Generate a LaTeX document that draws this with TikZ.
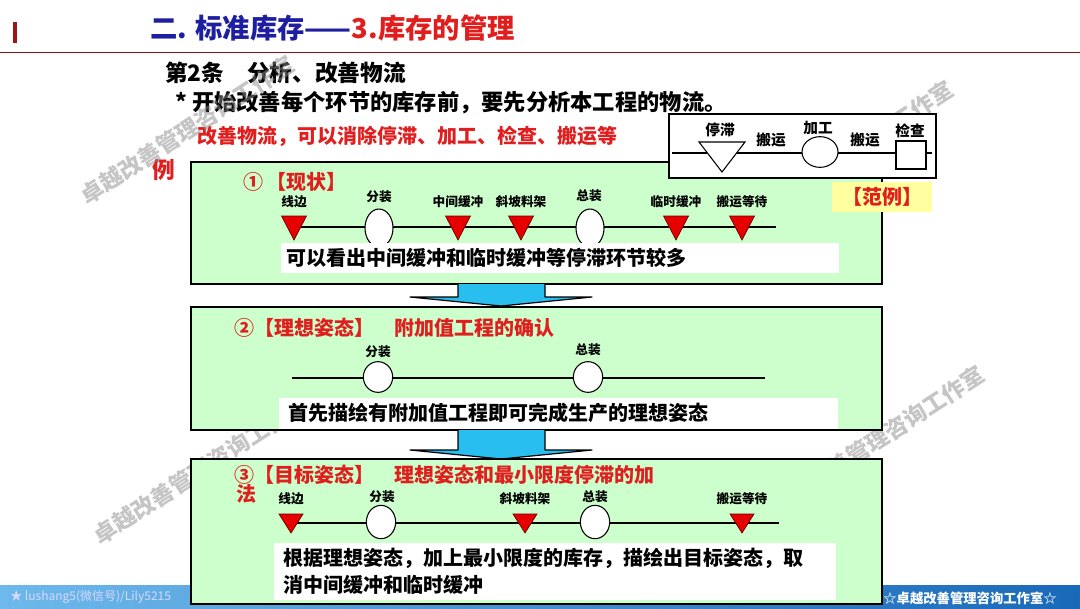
\documentclass[tikz,border=0pt]{standalone}
\usepackage{fontspec}
\setmainfont{Noto Sans CJK SC}
\usetikzlibrary{shapes.geometric}
\definecolor{titleblue}{RGB}{30,30,160}
\definecolor{titlered}{RGB}{225,30,30}
\definecolor{boxgreen}{RGB}{204,255,204}
\definecolor{arrowcyan}{RGB}{40,190,240}
\definecolor{markred}{RGB}{230,0,0}
\definecolor{barblue}{RGB}{25,105,185}
\definecolor{barlight}{RGB}{110,185,235}
\definecolor{markgray}{RGB}{140,140,140}
\definecolor{hlyellow}{RGB}{255,255,160}
\newcommand\fsz[1]{\fontsize{#1}{#1}\selectfont}

\begin{document}
\begin{tikzpicture}[x=0.75pt, y=-0.75pt,
  greenbox/.style={fill=boxgreen, draw=black, line width=1.3pt},
  stopmark/.style={fill=markred, draw=red!40!black, line width=0.5pt},
  proc/.style={ellipse, draw=black, fill=white, line width=0.8pt, inner sep=0pt},
  flow/.style={line width=1.1pt},
  tag/.style={font=\bfseries\fsz{9.5}, inner sep=0pt},
  head/.style={font=\bfseries\fsz{15}, text=titlered, anchor=west, inner sep=0pt},
  body/.style={font=\bfseries\fsz{15}, anchor=west, inner sep=0pt},
  wmark/.style={text=markgray, opacity=0.5, font=\bfseries\fsz{17}, rotate=33, inner sep=0pt},
  cyanarrow/.style={fill=arrowcyan, draw=black, line width=0.9pt, line join=round}]
\useasboundingbox (0,0) rectangle (1080,608);
\fill[white] (0,0) rectangle (1080,608);

% bottom bar
\shade[left color=barlight, right color=barblue] (0,585) rectangle (1080,608);
\node[font=\fsz{9}, text=white!85!blue, anchor=west, inner sep=0pt] (wechat) at (10,597) {★ lushang5(微信号)/Lily5215};
\node[font=\bfseries\fsz{10}, text=white, inner sep=0pt] (studio) at (970,598) {☆卓越改善管理咨询工作室☆};

% title
\fill[titlered!70!black] (13,22) rectangle (17,43);
\draw[titlered!60!black, line width=0.6pt] (0,52) -- (1080,52);
\node[anchor=west, inner sep=0pt, font=\bfseries\fsz{20.5}] (title) at (150,28)
  {\textcolor{titleblue}{二. 标准库存——}\textcolor{titlered}{3.库存的管理}};

\node[body, font=\bfseries\fsz{17}] (art) at (165,73) {第2条　分析、改善物流};
\node[body, font=\bfseries\fsz{16.7}] (note) at (175,103) {* 开始改善每个环节的库存前，要先分析本工程的物流。};
\node[head] (aim) at (197,136) {改善物流，可以消除停滞、加工、检查、搬运等};
\node[head, font=\bfseries\fsz{17}] (li) at (152,170) {例};

% watermarks
\node[wmark] (wm1) at (187,130) {卓越改善管理咨询工作室};
\node[wmark] (wm2) at (200,470) {卓越改善管理咨询工作室};
\node[wmark] (wm3) at (877,440) {卓越改善管理咨询工作室};
\node[wmark] (wm4) at (846,155) {卓越改善管理咨询工作室};

% 1 now
\draw[greenbox] (191,162) rectangle (882,284);
\node[head] (h1) at (243,182) {①\,【现状】};
\coordinate (s1) at (290,227);
\coordinate (e1) at (776,227);
\draw[flow] (s1) -- (e1);
\foreach \x/\t in {294/线边, 458/中间缓冲, 521/斜坡料架, 676/临时缓冲, 742/搬运等待} {
  \filldraw[stopmark] (\x-12.5,216) -- (\x+12.5,216) -- (\x,240) -- cycle;
  \node[tag] (a-\x) at (\x,202) {\t};
}
\node[proc, minimum width=21pt, minimum height=28.5pt] (a-fz) at (379,228) {};
\node[proc, minimum width=21pt, minimum height=28.5pt] (a-zz) at (590,228) {};
\node[tag] (a-fzt) at (379,197) {分装};
\node[tag] (a-zzt) at (589,196) {总装};
\fill[white] (281,243) rectangle (839,273);
\node[body] (t1) at (286,258) {可以看出中间缓冲和临时缓冲等停滞环节较多};

\filldraw[cyanarrow] (458,284) -- (458,297) -- (410,297) -- (501,306) -- (592,297) -- (545,297) -- (545,284);

% 2 ideal
\draw[greenbox] (191,307) rectangle (882,430);
\node[head] (h2) at (234,328) {②【理想姿态】　附加值工程的确认};
\coordinate (s2) at (292,378);
\coordinate (e2) at (765,378);
\draw[flow] (s2) -- (e2);
\node[proc, minimum width=22pt, minimum height=23pt] (b-fz) at (378,377) {};
\node[proc, minimum width=22pt, minimum height=23pt] (b-zz) at (588,377) {};
\node[tag] (b-fzt) at (378,352) {分装};
\node[tag] (b-zzt) at (588,350) {总装};
\fill[white] (279,398) rectangle (838,429);
\node[body] (t2) at (288,413) {首先描绘有附加值工程即可完成生产的理想姿态};

\filldraw[cyanarrow] (458,430) -- (458,450) -- (410,450) -- (501,459) -- (592,450) -- (545,450) -- (545,430);

% 3 target
\draw[greenbox] (191,459) rectangle (882,604);
\node[head] (h3) at (234,475) {③【目标姿态】　理想姿态和最小限度停滞的加};
\node[head] (h3b) at (236,494) {法};
\coordinate (s3) at (290,523);
\coordinate (e3) at (779,523);
\draw[flow] (s3) -- (e3);
\foreach \x/\t in {291/线边, 525/斜坡料架, 742/搬运等待} {
  \filldraw[stopmark] (\x-12,514) -- (\x+12,514) -- (\x,533) -- cycle;
  \node[tag] (c-\x) at (\x,499) {\t};
}
\node[proc, minimum width=22pt, minimum height=25pt] (c-fz) at (381,522) {};
\node[proc, minimum width=22pt, minimum height=25pt] (c-zz) at (595,522) {};
\node[tag] (c-fzt) at (382,497) {分装};
\node[tag] (c-zzt) at (595,497) {总装};
\fill[white] (274,543) rectangle (836,600);
\node[body, align=left, font=\bfseries\fontsize{15}{20.25}\selectfont] (t3) at (283,571.5)
  {根据理想姿态，加上最小限度的库存，描绘出目标姿态，取\\消中间缓冲和临时缓冲};

% legend
\filldraw[fill=white, draw=black, line width=0.8pt] (669,114) rectangle (936,178);
\coordinate (ls) at (672,153);
\coordinate (le) at (932,153);
\draw[line width=0.8pt] (ls) -- (le);
\filldraw[fill=white, draw=black, line width=0.8pt] (699,142) -- (745,142) -- (722,172) -- cycle;
\node[proc, minimum width=27pt, minimum height=23pt] (lg-jg) at (820,152) {};
\filldraw[fill=white, draw=black, line width=0.8pt] (896,141) rectangle (926,169);
\node[tag, font=\bfseries\fsz{11}] (lg-tz) at (720,130) {停滞};
\node[tag, font=\bfseries\fsz{11}] (lg-by1) at (771,140) {搬运};
\node[tag, font=\bfseries\fsz{11}] (lg-jgt) at (818,128) {加工};
\node[tag, font=\bfseries\fsz{11}] (lg-by2) at (865,140) {搬运};
\node[tag, font=\bfseries\fsz{11}] (lg-jc) at (910,131) {检查};
\node[fill=hlyellow, text=titlered, font=\bfseries\fsz{15}, inner sep=0pt,
  minimum width=75pt, minimum height=22.5pt] (fanli) at (882,197) {【范例】};
\end{tikzpicture}
\end{document}
